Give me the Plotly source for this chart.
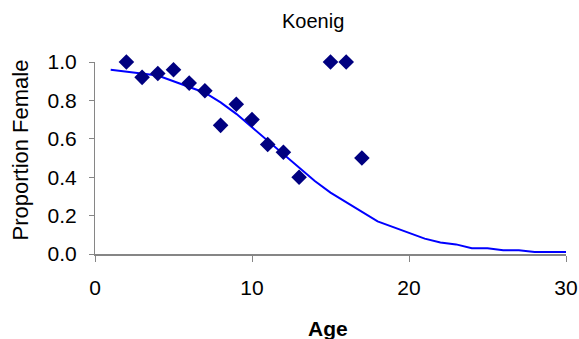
import plotly.graph_objects as go

# Observed data
ages = [2, 3, 4, 5, 6, 7, 8, 9, 10, 11, 12, 13, 15, 16, 17]
prop_female = [1.0, 0.92, 0.94, 0.96, 0.89, 0.85, 0.67, 0.78, 0.70, 0.57, 0.53, 0.40, 1.0, 1.0, 0.50]

# Fitted curve
fit_age = list(range(1, 31))
fit_prop = [0.96, 0.95, 0.94, 0.93, 0.90, 0.87, 0.84, 0.79, 0.73, 0.66,
            0.59, 0.52, 0.45, 0.38, 0.32, 0.27, 0.22, 0.17, 0.14, 0.11,
            0.08, 0.06, 0.05, 0.03, 0.03, 0.02, 0.02, 0.01, 0.01, 0.01]

x_ticks = [0, 10, 20, 30]
y_ticks = [0.0, 0.2, 0.4, 0.6, 0.8, 1.0]

W, H = 579, 339
L, R, T, B = 95, 13, 62, 85

fig = go.Figure()
fig.add_trace(go.Scatter(x=fit_age, y=fit_prop, mode="lines",
                         line=dict(color="#0000FF", width=2), cliponaxis=False))
fig.add_trace(go.Scatter(x=ages, y=prop_female, mode="markers",
                         marker=dict(symbol="diamond", size=12, color="#000080",
                                     line=dict(width=0)), cliponaxis=False))

font = "Liberation Sans, Arial, sans-serif"
axcol = "#868686"
fig.update_layout(
    width=W, height=H,
    margin=dict(l=L, r=R, t=T, b=B, pad=0, autoexpand=False),
    paper_bgcolor="white", plot_bgcolor="white",
    showlegend=False,
    font=dict(family=font, size=21, color="black"),
    xaxis=dict(range=[0, 30], tickvals=x_ticks, ticks="outside", ticklen=6,
               tickcolor=axcol, tickwidth=1, showline=True, linecolor=axcol,
               linewidth=2, showgrid=False, zeroline=False, automargin=False,
               ticklabelstandoff=8),
    yaxis=dict(range=[0, 1], tickvals=y_ticks, tickformat=".1f", ticks="outside",
               ticklen=5, tickcolor=axcol, tickwidth=1, showline=True,
               linecolor=axcol, linewidth=1, showgrid=False, zeroline=False,
               automargin=False, ticklabelstandoff=8),
    annotations=[
        dict(text="Koenig", xref="paper", yref="paper", x=(313 - L) / (W - L - R),
             y=(H - 21 - B) / (H - T - B), xanchor="center", yanchor="middle",
             showarrow=False, font=dict(size=20)),
        dict(text="<b>Age</b>", xref="paper", yref="paper", x=(328 - L) / (W - L - R),
             y=(H - 328 - B) / (H - T - B), xanchor="center", yanchor="middle",
             showarrow=False, font=dict(size=21)),
        dict(text="Proportion Female", xref="paper", yref="paper",
             x=(20 - L) / (W - L - R), y=(H - 243 - B) / (H - T - B),
             xanchor="center", yanchor="bottom", textangle=-90,
             showarrow=False, font=dict(size=22)),
    ],
)

fig.write_html("out.html")
